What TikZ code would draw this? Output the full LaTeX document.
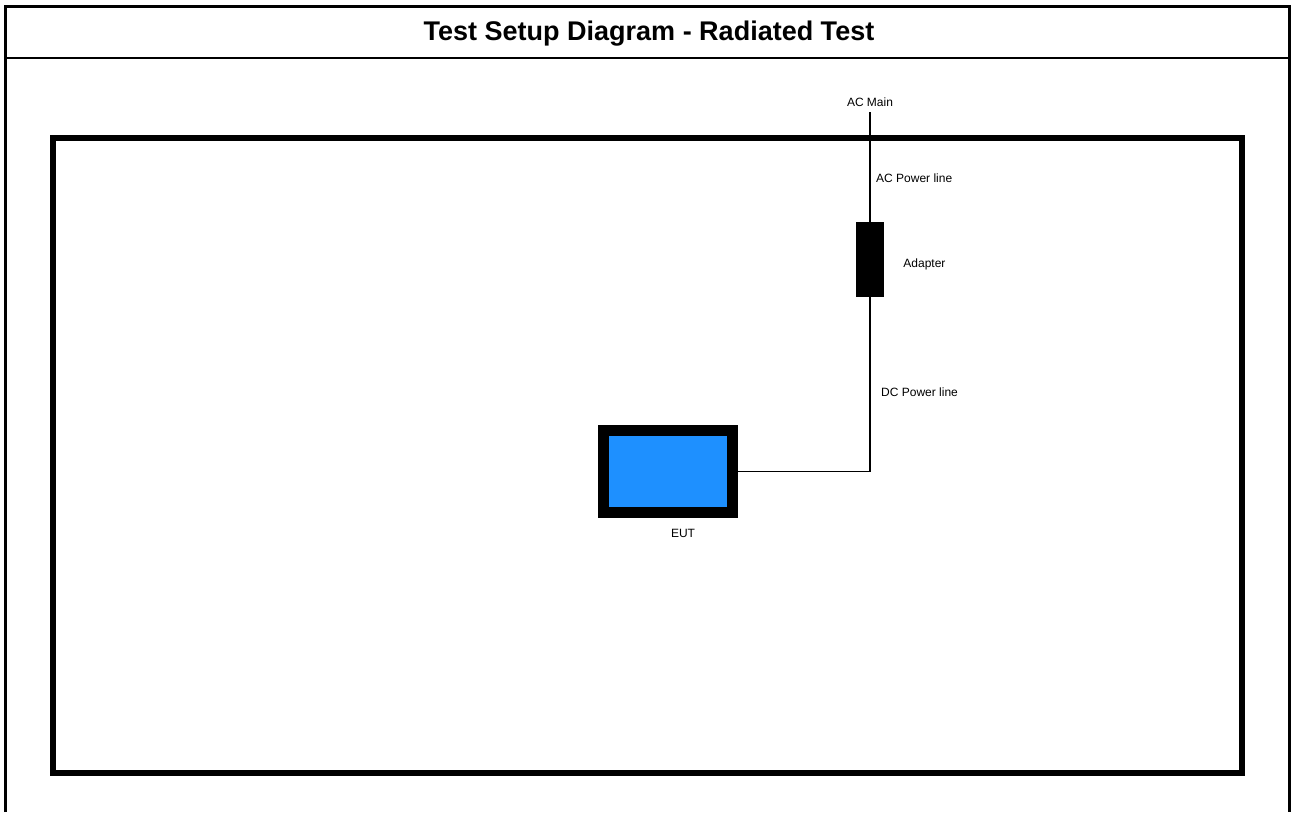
\documentclass[tikz,border=0pt]{standalone}
\usepackage{fontspec}
\setmainfont{Liberation Sans}
\usetikzlibrary{positioning}
\definecolor{eutblue}{RGB}{30,144,255}

\begin{document}
\begin{tikzpicture}[x=1pt,y=-1pt]
		\tikzset{
			lbl/.style={font=\fontsize{12}{14}\selectfont,inner sep=0pt},
			cable/.style={line width=1.5pt}
		}
		\useasboundingbox (0,0) rectangle (1292,812);
		\draw[line width=3pt] (5.5,812) |- (1289.5,6.5) -- (1289.5,812);
		\draw[line width=2pt] (5.5,58) -- (1289.5,58);
		\node(title) at (649,34) {\fontsize{27}{31}\selectfont\bfseries Test Setup Diagram - Radiated Test};
		\draw[line width=6pt] (53,138) rectangle (1241.5,772.5);
		\coordinate(acmain) at (870,112);
		\node(adapter)[fill=black,minimum width=28pt,minimum height=75pt,inner sep=0pt] at (870,259.5) {};
		\node(eut)[draw=black,line width=11pt,fill=eutblue,minimum width=129pt,minimum height=82pt,inner sep=0pt] at (668,471.5) {};
		\node(textacmain)[lbl,above=5pt of acmain]{AC Main};
		\node(textacline)[lbl,anchor=west] at (876,178) {AC Power line};
		\node(textadapter)[lbl,right=19pt of adapter,yshift=-5pt]{Adapter};
		\node(textdcline)[lbl,anchor=west] at (881,392) {DC Power line};
		\node(texteut)[lbl,below=11pt of eut,xshift=15pt]{EUT};
		\draw[cable] (acmain) -- (adapter);
		\draw[cable] (adapter) |- (eut);
\end{tikzpicture}
\end{document}
